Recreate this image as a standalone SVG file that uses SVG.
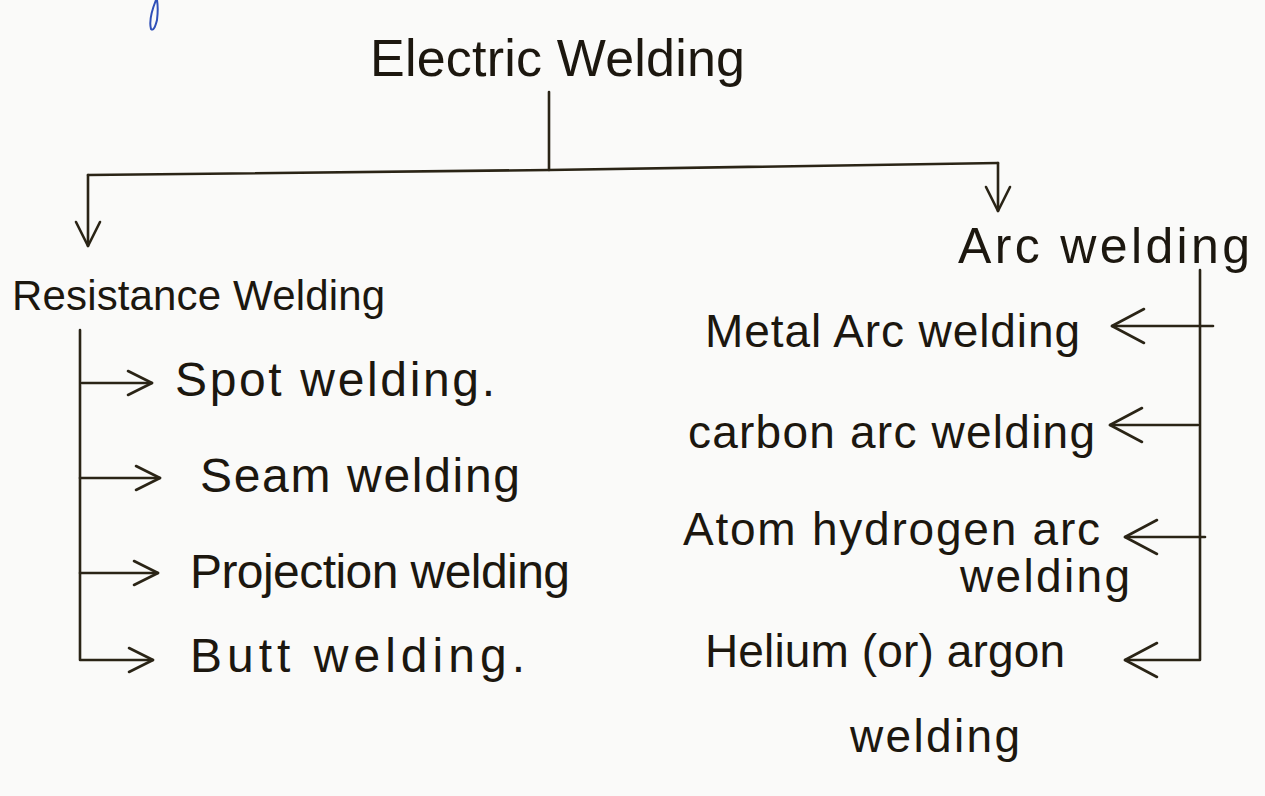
<svg xmlns="http://www.w3.org/2000/svg" width="1265" height="796" viewBox="0 0 1265 796">
  <style>
    .ink { fill: #1c170f; font-family: "Liberation Sans", "DejaVu Sans", sans-serif; }
    .wire { fill: none; stroke: #2a2416; stroke-width: 2.6; stroke-linecap: round; stroke-linejoin: round; }
  </style>
  <defs>
    <!-- open chevron heads used at the end of every branch -->
    <marker id="head" viewBox="0 0 30 30" refX="28" refY="15" markerWidth="30" markerHeight="30" markerUnits="userSpaceOnUse" orient="auto">
      <path d="M4,3 L28,15 L4,27" fill="none" stroke="#2a2416" stroke-width="2.6" stroke-linecap="round" stroke-linejoin="round"/>
    </marker>
    <marker id="headWide" viewBox="0 0 40 40" refX="38" refY="20" markerWidth="40" markerHeight="40" markerUnits="userSpaceOnUse" orient="auto">
      <path d="M6,3 L38,20 L6,37" fill="none" stroke="#2a2416" stroke-width="2.6" stroke-linecap="round" stroke-linejoin="round"/>
    </marker>
  </defs>

  <rect width="1265" height="796" fill="#fafaf9"/>

  <!-- stray blue pen stroke at the top edge -->
  <path d="M156,0 C152,10 149,22 151,29 C153,31 155,28 157,20 C158,12 158,6 157,0" fill="none" stroke="#2f4fb8" stroke-width="2"/>

  <g id="connectors" class="wire">
    <path d="M549,92 V170"/>
    <path d="M88,175 L549,170 L998,163"/>
    <path d="M88,175 V246" marker-end="url(#head)"/>
    <path d="M998,163 V211" marker-end="url(#head)"/>

    <!-- resistance welding branch -->
    <path d="M80,330 V660 H153" marker-end="url(#head)"/>
    <path d="M82,383 H152" marker-end="url(#head)"/>
    <path d="M80,478 H160" marker-end="url(#head)"/>
    <path d="M80,573 H158" marker-end="url(#head)"/>

    <!-- arc welding branch -->
    <path d="M1200,270 V660 H1125" marker-end="url(#headWide)"/>
    <path d="M1213,326 H1112" marker-end="url(#headWide)"/>
    <path d="M1198,425 H1110" marker-end="url(#headWide)"/>
    <path d="M1205,537 H1125" marker-end="url(#headWide)"/>
  </g>

  <g id="electric-welding">
    <text class="ink" x="370" y="76" font-size="52" textLength="375" lengthAdjust="spacing">Electric Welding</text>
  </g>
  <g id="resistance-welding">
    <text class="ink" x="12" y="310" font-size="42" textLength="373" lengthAdjust="spacing">Resistance Welding</text>
  </g>
  <g id="arc-welding">
    <text class="ink" x="958" y="263" font-size="50" textLength="292" lengthAdjust="spacing">Arc welding</text>
  </g>

  <g id="spot-welding">
    <text class="ink" x="175" y="396" font-size="48" textLength="320" lengthAdjust="spacing">Spot welding.</text>
  </g>
  <g id="seam-welding">
    <text class="ink" x="200" y="492" font-size="48" textLength="320" lengthAdjust="spacing">Seam welding</text>
  </g>
  <g id="projection-welding">
    <text class="ink" x="190" y="588" font-size="48" textLength="380" lengthAdjust="spacing">Projection welding</text>
  </g>
  <g id="butt-welding">
    <text class="ink" x="190" y="672" font-size="48" textLength="335" lengthAdjust="spacing">Butt welding.</text>
  </g>

  <g id="metal-arc-welding">
    <text class="ink" x="705" y="347" font-size="46" textLength="375" lengthAdjust="spacing">Metal Arc welding</text>
  </g>
  <g id="carbon-arc-welding">
    <text class="ink" x="688" y="448" font-size="46" textLength="407" lengthAdjust="spacing">carbon arc welding</text>
  </g>
  <g id="atom-hydrogen-arc-welding">
    <text class="ink" x="683" y="545" font-size="46" textLength="417" lengthAdjust="spacing">Atom hydrogen arc</text>
    <text class="ink" x="960" y="592" font-size="46" textLength="170" lengthAdjust="spacing">welding</text>
  </g>
  <g id="helium-argon-welding">
    <text class="ink" x="705" y="667" font-size="46" textLength="360" lengthAdjust="spacing">Helium (or) argon</text>
    <text class="ink" x="850" y="752" font-size="46" textLength="170" lengthAdjust="spacing">welding</text>
  </g>
</svg>
